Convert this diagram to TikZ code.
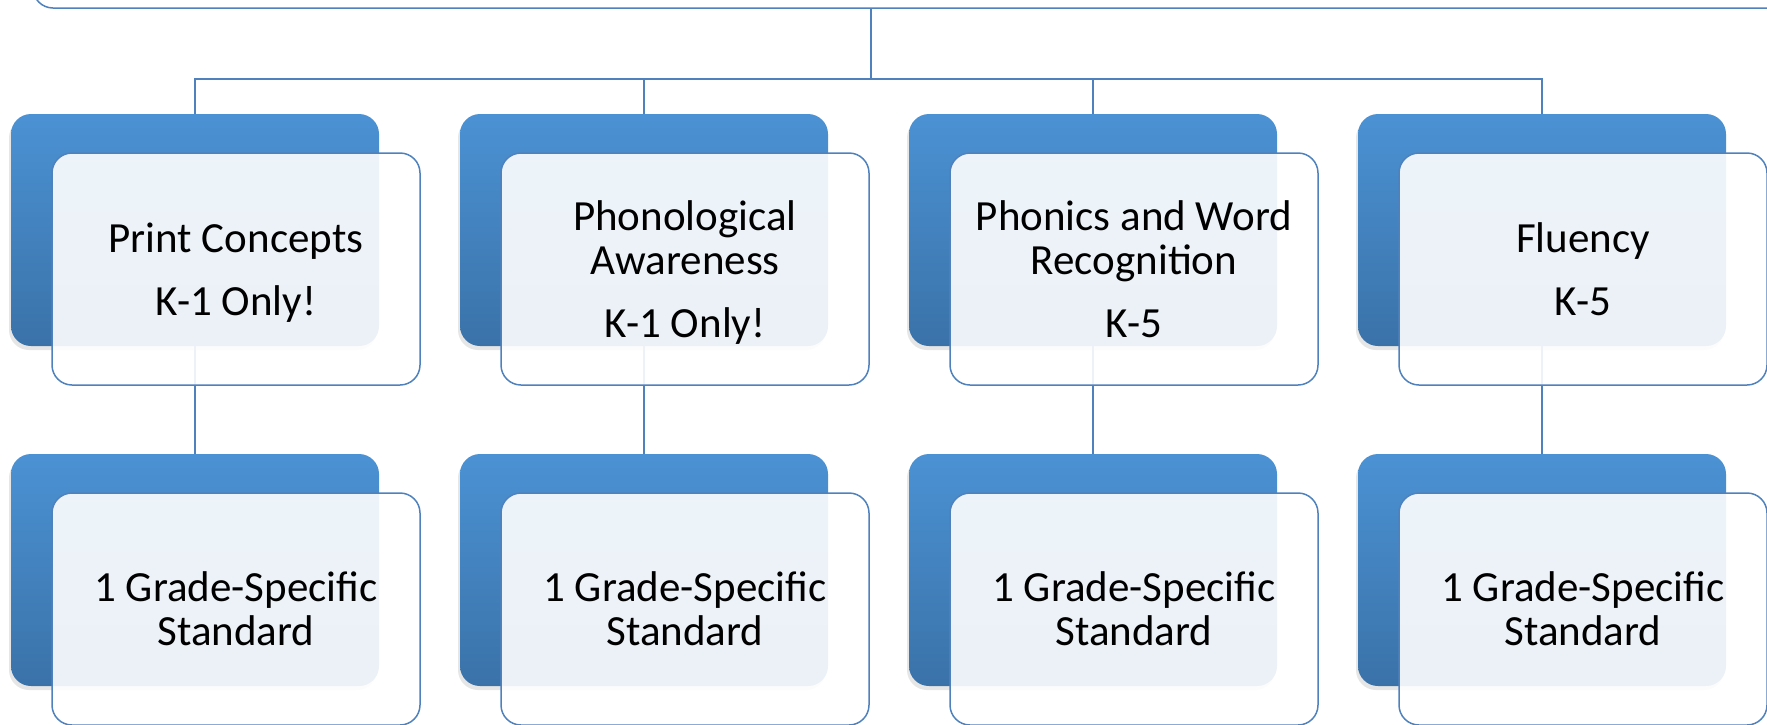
\documentclass[tikz,border=0pt]{standalone}
\usepackage{fontspec}
\setmainfont{Carlito}
\usetikzlibrary{shadows,backgrounds}
\definecolor{boxtop}{RGB}{75,146,212}
\definecolor{boxbot}{RGB}{58,114,168}
\definecolor{linkblue}{RGB}{79,129,189}
\tikzset{
  backbox/.style={rectangle, rounded corners=20pt, minimum width=368pt, minimum height=232pt,
    inner sep=0pt, top color=boxtop, bottom color=boxbot,
    drop shadow={shadow xshift=-2pt, shadow yshift=-4pt, opacity=0.2}},
  frontbox/.style={rectangle, rounded corners=20pt, minimum width=368pt, minimum height=232pt,
    inner sep=0pt, draw=linkblue, line width=1.5pt, fill=white, fill opacity=0.9, text opacity=1,
    align=center, font=\fontsize{43}{44}\selectfont, text depth=0pt,
    execute at begin node=\rule{0pt}{30pt}},
  link/.style={draw=linkblue, line width=1.5pt}
}
\begin{document}
\begin{tikzpicture}[x=1pt,y=-1pt]
        \useasboundingbox (0,0) rectangle (1767,724);
        \clip (0,0) rectangle (1767,724);
        \node[frontbox, minimum width=1758pt] (root) at (912,-108) {};
        \node[backbox] (printb) at (195,230) {};
        \node[frontbox] (print) at (236,269) {Print Concepts\\[19pt]K-1 Only!};
        \node[backbox] (phonob) at (644,230) {};
        \node[frontbox] (phono) at (685,269) {Phonological\\Awareness\\[19pt]K-1 Only!};
        \node[backbox] (wordb) at (1093,230) {};
        \node[frontbox] (word) at (1134,269) {Phonics and Word\\Recognition\\[19pt]K-5};
        \node[backbox] (fluentb) at (1542,230) {};
        \node[frontbox] (fluent) at (1583,269) {Fluency\\[19pt]K-5};
        \node[backbox] (printsb) at (195,570) {};
        \node[frontbox] (prints) at (236,609) {1 Grade-Specific\\Standard};
        \node[backbox] (phonosb) at (644,570) {};
        \node[frontbox] (phonos) at (685,609) {1 Grade-Specific\\Standard};
        \node[backbox] (wordsb) at (1093,570) {};
        \node[frontbox] (words) at (1134,609) {1 Grade-Specific\\Standard};
        \node[backbox] (fluentsb) at (1542,570) {};
        \node[frontbox] (fluents) at (1583,609) {1 Grade-Specific\\Standard};
        \begin{scope}[on background layer]
          \coordinate (rootdn) at (871,8);
          \coordinate (bus) at (871,79);
          \draw[link] (rootdn) -- (bus);
          \draw[link] (bus) -| (printb.north);
          \draw[link] (bus) -| (phonob.north);
          \draw[link] (bus) -| (wordb.north);
          \draw[link] (bus) -| (fluentb.north);
          \draw[link] (printb.south) -- (printsb.north);
          \draw[link] (phonob.south) -- (phonosb.north);
          \draw[link] (wordb.south) -- (wordsb.north);
          \draw[link] (fluentb.south) -- (fluentsb.north);
        \end{scope}
      \end{tikzpicture}
\end{document}
